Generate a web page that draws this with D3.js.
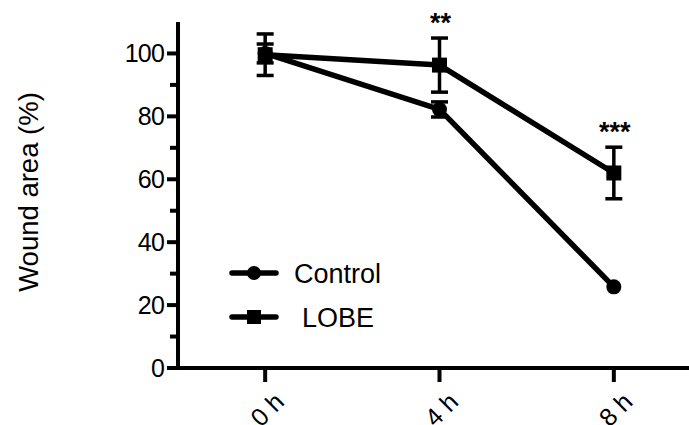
<!DOCTYPE html>
<meta charset="utf-8">
<script src="https://d3js.org/d3.v7.min.js"></script>
<style>
body { margin: 0; background: #fff; }
svg { display: block; font-family: "Liberation Sans", Arial, sans-serif; }
.tick-label { font-size: 25px; fill: #000; }
.legend-text { font-size: 27px; fill: #000; }
</style>
<body>
<div class="chart"></div>
<script>

// Data
var times = ["0 h", "4 h", "8 h"];
var controlMean = [100, 82.2, 25.8];
var controlErr = [3, 2.4, 0];
var lobeMean = [99.6, 96.3, 62];
var lobeErr = [6.6, 8.6, 8.2];
var sigLabels = ["", "**", "***"];
var yTicks = [0, 20, 40, 60, 80, 100];
var yMinorTicks = [10, 30, 50, 70, 90];

var width = 689, height = 425;

var svg = d3.select(".chart").append("svg")
    .attr("width", width)
    .attr("height", height);

var x = d3.scalePoint()
    .domain(times)
    .range([178, 701])
    .padding(0.5);

var y = d3.scaleLinear()
    .domain([0, 110])
    .range([368, 22]);

// Y axis
var yAxis = svg.append("g").attr("transform", "translate(178,0)");
yAxis.append("line")
    .attr("x1", 0).attr("x2", 0)
    .attr("y1", y(110)).attr("y2", y(0) + 2)
    .attr("stroke", "#000").attr("stroke-width", 4);
yAxis.selectAll(".major")
    .data(yTicks)
    .enter().append("line")
    .attr("x1", -11).attr("x2", 0)
    .attr("y1", function(d) { return y(d); })
    .attr("y2", function(d) { return y(d); })
    .attr("stroke", "#000").attr("stroke-width", 4);
yAxis.selectAll(".minor")
    .data(yMinorTicks)
    .enter().append("line")
    .attr("x1", -8).attr("x2", 0)
    .attr("y1", function(d) { return y(d); })
    .attr("y2", function(d) { return y(d); })
    .attr("stroke", "#000").attr("stroke-width", 4);
yAxis.selectAll(".tick-label")
    .data(yTicks)
    .enter().append("text")
    .attr("class", "tick-label")
    .attr("x", -14)
    .attr("y", function(d) { return y(d); })
    .attr("dy", "0.36em")
    .attr("text-anchor", "end")
    .attr("letter-spacing", "-0.8px")
    .text(function(d) { return d; });

// X axis
svg.append("line")
    .attr("x1", 176).attr("x2", width)
    .attr("y1", y(0)).attr("y2", y(0))
    .attr("stroke", "#000").attr("stroke-width", 4);
svg.selectAll(".xtick")
    .data(times)
    .enter().append("line")
    .attr("x1", function(d) { return x(d); })
    .attr("x2", function(d) { return x(d); })
    .attr("y1", y(0)).attr("y2", y(0) + 14)
    .attr("stroke", "#000").attr("stroke-width", 4);
svg.selectAll(".xlabel")
    .data(times)
    .enter().append("text")
    .attr("class", "tick-label")
    .attr("text-anchor", "end")
    .attr("transform", function(d) { return "translate(" + (x(d) + 8) + "," + (y(0) + 23) + ") rotate(-45)"; })
    .attr("dy", "0.7em")
    .text(function(d) { return d; });

// Y axis title
svg.append("text")
    .attr("transform", "translate(38,192) rotate(-90)")
    .attr("text-anchor", "middle")
    .attr("font-size", "27.5px")
    .text("Wound area (%)");

var line = d3.line()
    .x(function(d, i) { return x(times[i]); })
    .y(function(d) { return y(d); });

function drawSeries(mean, err, shape) {
  var g = svg.append("g");
  g.append("path")
      .datum(mean)
      .attr("d", line)
      .attr("fill", "none")
      .attr("stroke", "#000")
      .attr("stroke-width", 5.5)
      .attr("stroke-linejoin", "round");
  var eb = g.selectAll(".eb")
      .data(mean)
      .enter().append("g")
      .attr("transform", function(d, i) { return "translate(" + x(times[i]) + ",0)"; });
  eb.each(function(d, i) {
    var e = err[i];
    if (!(e > 0)) return;
    var s = d3.select(this);
    s.append("line")
        .attr("x1", 0).attr("x2", 0)
        .attr("y1", y(d + e)).attr("y2", y(d - e))
        .attr("stroke", "#000").attr("stroke-width", 3.5);
    [d + e, d - e].forEach(function(v) {
      s.append("line")
          .attr("x1", -8.5).attr("x2", 8.5)
          .attr("y1", y(v)).attr("y2", y(v))
          .attr("stroke", "#000").attr("stroke-width", 3.5);
    });
  });
  if (shape === "circle") {
    eb.append("circle")
        .attr("cx", 0)
        .attr("cy", function(d) { return y(d); })
        .attr("r", 7.5)
        .attr("fill", "#000");
  } else {
    eb.append("rect")
        .attr("x", -7.5)
        .attr("y", function(d) { return y(d) - 7.5; })
        .attr("width", 15).attr("height", 15)
        .attr("fill", "#000");
  }
}

drawSeries(controlMean, controlErr, "circle");
drawSeries(lobeMean, lobeErr, "square");

// Significance marks
svg.selectAll(".sig")
    .data(sigLabels)
    .enter().append("text")
    .attr("x", function(d, i) { return x(times[i]) + 1; })
    .attr("y", function(d, i) { return y(lobeMean[i] + lobeErr[i]) - 6; })
    .attr("text-anchor", "middle")
    .attr("font-size", "27px")
    .attr("font-weight", "bold")
    .text(function(d) { return d; });

// Legend
var legend = svg.append("g");
var legendItems = [{label: "Control", shape: "circle", y: 273, tx: 294},
                   {label: "LOBE", shape: "square", y: 317, tx: 302}];
legendItems.forEach(function(item) {
  legend.append("line")
      .attr("x1", 232).attr("x2", 276)
      .attr("y1", item.y).attr("y2", item.y)
      .attr("stroke", "#000").attr("stroke-width", 5.5)
      .attr("stroke-linecap", "round");
  if (item.shape === "circle") {
    legend.append("circle").attr("cx", 254).attr("cy", item.y).attr("r", 7).attr("fill", "#000");
  } else {
    legend.append("rect").attr("x", 247).attr("y", item.y - 7).attr("width", 14).attr("height", 14).attr("fill", "#000");
  }
  legend.append("text")
      .attr("class", "legend-text")
      .attr("x", item.tx)
      .attr("y", item.y)
      .attr("dy", "0.36em")
      .text(item.label);
});

</script>
</body>
</html>
